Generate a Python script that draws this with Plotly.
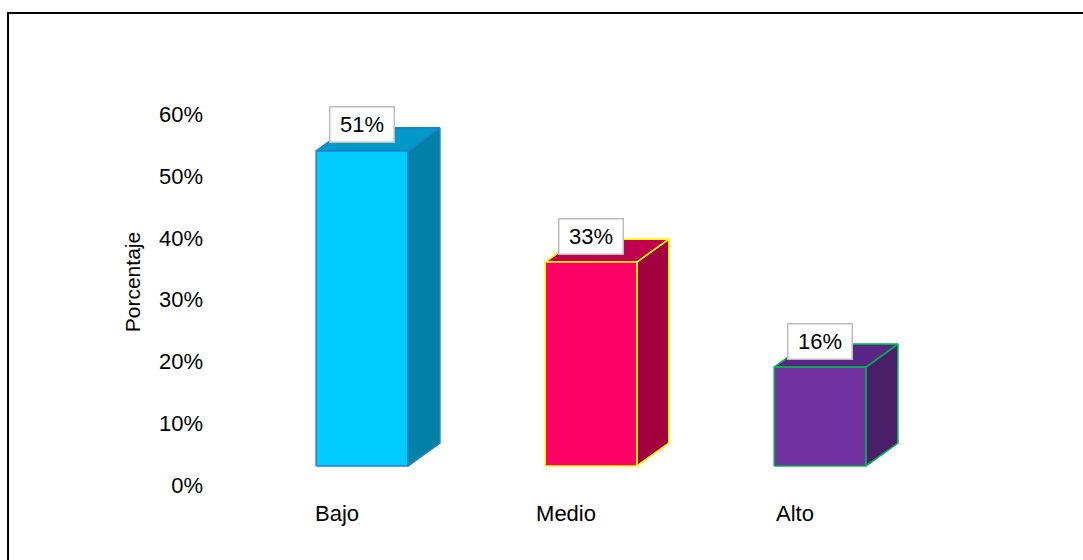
import plotly.graph_objects as go

# ---- data ----
categories = ["Bajo", "Medio", "Alto"]
values = [51, 33, 16]            # percent
value_labels = ["51%", "33%", "16%"]
y_ticks = [0, 10, 20, 30, 40, 50, 60]
y_tick_labels = ["0%", "10%", "20%", "30%", "40%", "50%", "60%"]

# ---- styles ----
front_colors = ["#00CCFF", "#FF0066", "#7030A0"]
top_colors = ["#0099C8", "#BE004E", "#5A2585"]
side_colors = ["#0082A6", "#A2003E", "#4A1F6A"]
edge_colors = ["#1F7FD0", "#FFFF00", "#00B050"]
FONT = "Liberation Sans, Arial, sans-serif"

half_w = 0.20      # half width of the front face (category units)
depth_x = 0.14     # 3D depth offset, x (category units)
depth_y = 3.72     # 3D depth offset, y (percent units)

fig = go.Figure()

for i, (cat, v) in enumerate(zip(categories, values)):
    xl, xr = i - half_w, i + half_w
    faces = [
        # side face
        ([xr, xr + depth_x, xr + depth_x, xr, xr],
         [0, depth_y, v + depth_y, v, 0], side_colors[i]),
        # top face
        ([xl, xr, xr + depth_x, xl + depth_x, xl],
         [v, v, v + depth_y, v + depth_y, v], top_colors[i]),
        # front face
        ([xl, xr, xr, xl, xl],
         [0, 0, v, v, 0], front_colors[i]),
    ]
    for fx, fy, col in faces:
        fig.add_trace(go.Scatter(
            x=fx, y=fy, mode="lines", fill="toself", fillcolor=col,
            line=dict(color=edge_colors[i], width=1.6),
            hoverinfo="skip", showlegend=False,
        ))
    fig.add_annotation(
        x=i, y=v, xref="x", yref="y", yshift=26,
        text=value_labels[i], showarrow=False,
        font=dict(family=FONT, size=22, color="#000000"),
        bgcolor="#FFFFFF", bordercolor="#BDBDBD", borderwidth=1.5,
        width=61, height=32, borderpad=1,
    )

fig.add_annotation(
    text="Porcentaje", textangle=-90, showarrow=False,
    xref="paper", yref="paper", x=-0.0914, y=0.448,
    xanchor="center", yanchor="middle",
    font=dict(family=FONT, size=21, color="#000000"),
)

# outer border (only left and top edges visible in frame)
fig.add_shape(type="rect", xref="paper", yref="paper",
              x0=-0.2368, x1=1.05, y0=-0.2, y1=1.0147,
              line=dict(color="#000000", width=2), fillcolor="rgba(0,0,0,0)",
              layer="above")

fig.update_layout(
    width=1083, height=560,
    margin=dict(l=210, r=20, t=20, b=65),
    paper_bgcolor="#FFFFFF", plot_bgcolor="#FFFFFF",
    font=dict(family=FONT, size=22, color="#000000"),
    xaxis=dict(
        range=[-0.6638, 3.0611], tickvals=list(range(len(categories))),
        ticktext=categories, showgrid=False, zeroline=False, showline=False,
        ticks="", ticklabelshift=-25, ticklabelstandoff=3, fixedrange=True,
        tickfont=dict(family=FONT, size=22, color="#000000"),
    ),
    yaxis=dict(
        range=[-4.69, 72.17], tickvals=y_ticks, ticktext=y_tick_labels,
        showgrid=False, zeroline=False, showline=False, ticks="",
        ticklabelshift=19, ticklabelstandoff=6, fixedrange=True,
        tickfont=dict(family=FONT, size=22, color="#000000"),
    ),
    showlegend=False,
)

fig.write_html("out.html")
